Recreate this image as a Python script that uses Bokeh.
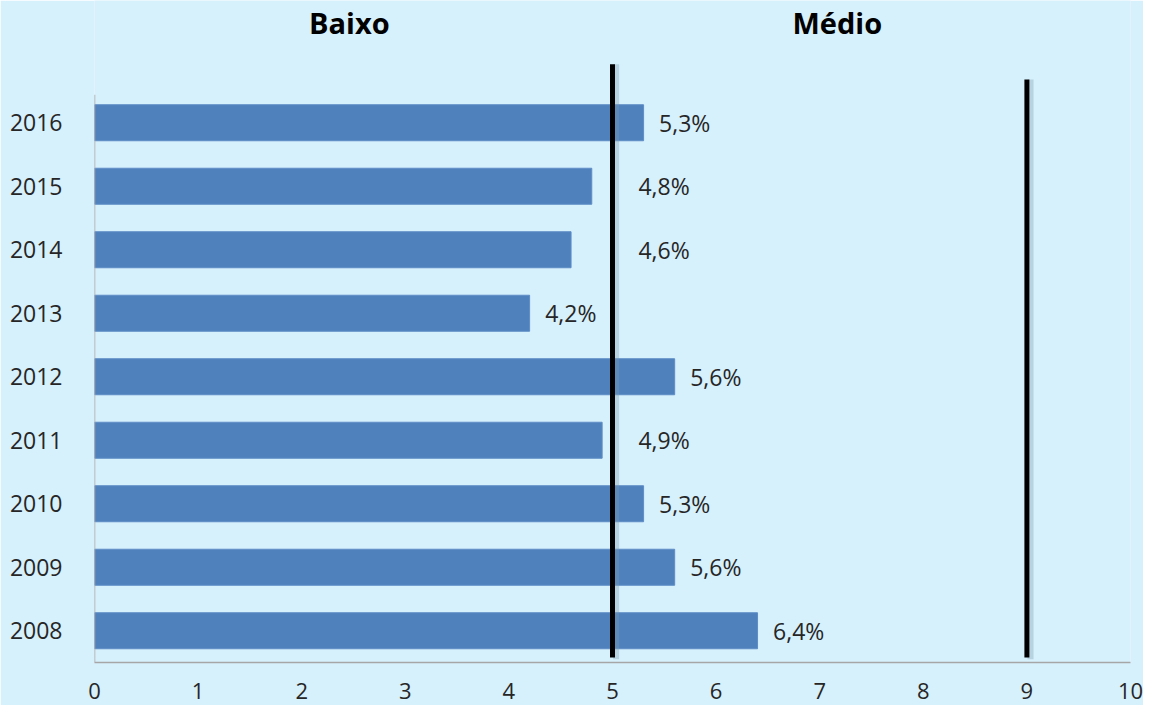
from bokeh.plotting import figure
from bokeh.models import ColumnDataSource, FixedTicker, Range1d
from bokeh.core.properties import value
from bokeh.embed import file_html
from bokeh.resources import INLINE

# ---- data ----
years = ["2008", "2009", "2010", "2011", "2012", "2013", "2014", "2015", "2016"]
rates = [6.4, 5.6, 5.3, 4.9, 5.6, 4.2, 4.6, 4.8, 5.3]
labels = ["6,4%", "5,6%", "5,3%", "4,9%", "5,6%", "4,2%", "4,6%", "4,8%", "5,3%"]
thresholds = [5, 9]
zone_names = ["Baixo", "Médio"]
zone_centers = [2.46, 7.17]
x_ticks = [0, 1, 2, 3, 4, 5, 6, 7, 8, 9, 10]

BG = "#D6F0FC"
BAR = "#4F81BD"
TXT = "#262626"
FONT = "Open Sans"

ypos = list(range(len(years)))
LABEL_GAP = 0.15     # gap between bar end and its label (data units)
LABEL_W = 0.52       # approx. label width (data units)


def place(v):
    x = v + LABEL_GAP
    if x + LABEL_W > 4.95 and x < 5.25:
        x = 5.25     # move the label clear of the threshold line
    return x


label_x = [place(v) for v in rates]

p = figure(width=1143, height=705, output_backend="svg", toolbar_location=None,
           x_range=Range1d(0, 10), y_range=Range1d(-0.5, 9.925),
           min_border_left=94, min_border_right=13, min_border_top=0,
           min_border_bottom=43)
p.background_fill_color = BG
p.border_fill_color = BG
p.outline_line_color = None
p.grid.visible = False

src = ColumnDataSource(dict(y=ypos, v=rates, lab=labels, lx=label_x))
p.hbar(y="y", right="v", left=0, height=0.567, source=src,
       fill_color=BAR, line_color="#5E8DC6", line_width=1)

p.text(x="lx", y="y", text="lab", source=src, text_baseline="middle",
       text_align="left", text_font=value(FONT), text_font_size="23px",
       text_color=TXT)

# left axis line (only spans the category area)
p.segment(x0=[0], y0=[-0.5], x1=[0], y1=[8.44], line_color="#A6A6A6", line_width=1.5)

# threshold lines (with faint shadow)
tops = [8.92, 8.68]
p.segment(x0=[t + 0.035 for t in thresholds], y0=[-0.45] * 2,
          x1=[t + 0.035 for t in thresholds], y1=tops,
          line_color="#7F9FB0", line_alpha=0.35, line_width=6)
p.segment(x0=thresholds, y0=[-0.42] * 2, x1=thresholds, y1=tops,
          line_color="black", line_width=5)

# zone titles
p.text(x=zone_centers, y=[9.58] * 2, text=zone_names, text_align="center",
       text_baseline="middle", text_font=value(FONT), text_font_style="bold",
       text_font_size="29px", text_color="black")

# x axis
xa = p.xaxis[0]
xa.ticker = FixedTicker(ticks=x_ticks)
xa.axis_line_color = "#A6A6A6"
xa.axis_line_width = 1.5
xa.major_tick_line_color = None
xa.minor_tick_line_color = None
xa.major_label_standoff = 14
xa.major_label_text_font = FONT
xa.major_label_text_font_size = "22px"
xa.major_label_text_color = TXT

# y axis
ya = p.yaxis[0]
ya.ticker = FixedTicker(ticks=ypos)
ya.major_label_overrides = {i: y for i, y in zip(ypos, years)}
ya.axis_line_color = None
ya.major_tick_line_color = None
ya.minor_tick_line_color = None
ya.major_label_standoff = 26
ya.major_label_text_font = FONT
ya.major_label_text_font_size = "23px"
ya.major_label_text_color = TXT

open("out.html", "w").write(file_html(p, INLINE))
